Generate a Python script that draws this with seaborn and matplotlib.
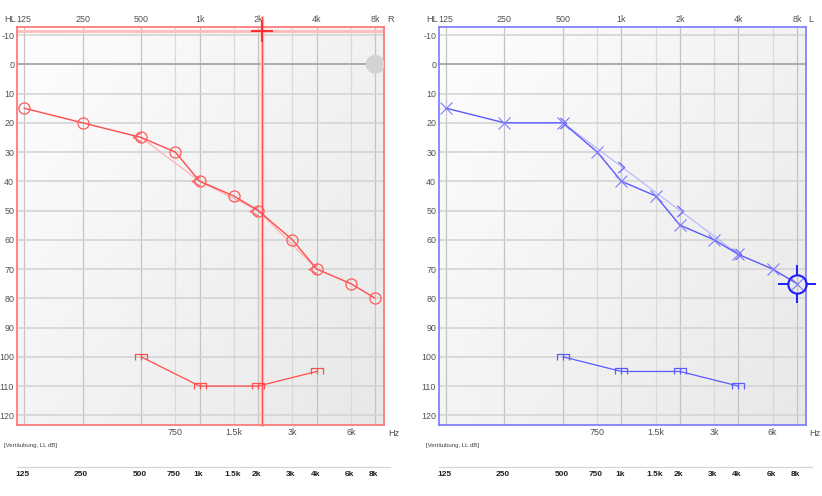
import numpy as np
import matplotlib
matplotlib.use("Agg")
import matplotlib.pyplot as plt
import matplotlib.transforms as mtransforms
from matplotlib.lines import Line2D
from matplotlib.path import Path
import seaborn as sns

sns.set_style("white")
plt.rcParams["font.family"] = ["Liberation Sans", "DejaVu Sans"]

# frequency axis
freqs = [125, 250, 500, 750, 1000, 1500, 2000, 3000, 4000, 6000, 8000]
octave_freqs = [125, 250, 500, 1000, 2000, 4000, 8000]
octave_labels = ["125", "250", "500", "1k", "2k", "4k", "8k"]
mid_freqs = [750, 1500, 3000, 6000]
mid_labels = ["750", "1.5k", "3k", "6k"]
table_labels = ["125", "250", "500", "750", "1k", "1.5k", "2k", "3k", "4k", "6k", "8k"]
db_ticks = [-10, 0, 10, 20, 30, 40, 50, 60, 70, 80, 90, 100, 110, 120]

# right ear (red)
right_air = [15, 20, 25, 30, 40, 45, 50, 60, 70, 75, 80]
bone_freqs = [500, 1000, 2000, 4000]
right_bone = [25, 40, 50, 70]
ull_freqs = [500, 1000, 2000, 4000]
right_ull = [100, 110, 110, 105]

# left ear (blue)
left_air = [15, 20, 20, 30, 40, 45, 55, 60, 65, 70, 75]
left_bone = [20, 35, 50, 65]
left_ull = [100, 105, 105, 110]

# extra marks
cursor_freq, cursor_db = 2100, -11.4
ref_freq, ref_db = 8000, 0
target_freq, target_db = 8000, 75

W, H = 822, 496
fig = plt.figure(figsize=(W / 100, H / 100), dpi=100)

M, L = Path.MOVETO, Path.LINETO
bc_right_marker = Path([(0, 0.55), (-1, 0), (0, -0.55)], [M, L, L])
bc_left_marker = Path([(-0.5, 0.9), (0.5, 0), (-0.5, -0.9)], [M, L, L])
ull_marker = Path([(-1, -0.45), (-1, 0.5), (1, 0.5), (1, -0.45), (0, 0.5), (0, -0.45)],
                  [M, L, L, L, M, L])
target_ticks = Path([(0, 0.5), (0, 1), (0, -0.5), (0, -1), (0.5, 0), (1, 0), (-0.5, 0), (-1, 0)],
                    [M, L, M, L, M, L, M, L])


def setup_axes(ax, side, edge):
    # soft grey gradient background
    yy, xx = np.mgrid[0:1:100j, 0:1:100j]
    g = 0.995 - 0.085 * (0.55 * xx + 0.45 * yy)
    ax.imshow(np.dstack([g, g, g]), extent=(0, 1, 0, 1), transform=ax.transAxes,
              aspect="auto", zorder=-2, origin="upper")
    ax.set_xscale("log", base=2)
    ax.set_xlim(115, 8900)
    ax.set_ylim(123.3, -12.75)
    ax.set_xticks(octave_freqs, octave_labels)
    ax.set_xticks(mid_freqs, mid_labels, minor=True)
    ax.set_yticks(db_ticks, [str(v) for v in db_ticks])
    ax.tick_params(which="both", length=0, labelsize=6.4, labelcolor="#505050")
    ax.tick_params(axis="x", which="major", labeltop=True, labelbottom=False, pad=2.5)
    ax.tick_params(axis="x", which="minor", labeltop=False, labelbottom=True, pad=2.5)
    ax.tick_params(axis="y", pad=2)
    ax.set_axisbelow(True)
    ax.grid(axis="x", which="major", color="#c4c4c4", lw=0.9)
    ax.grid(axis="x", which="minor", color="#d9d9d9", lw=0.9)
    ax.grid(axis="y", which="major", color="#d2d2d2", lw=1.1)
    ax.axhline(0, color="#a9a9a9", lw=1.3, zorder=0.6)
    for s in ax.spines.values():
        s.set_visible(True)
        s.set_color(edge)
        s.set_linewidth(1.2)
    # labels around the panel
    x0, x1 = ax.get_position().x0, ax.get_position().x1
    fig.text(x0 - 13 / W, 1 - 20 / H, "HL", fontsize=6.6, color="#505050", va="center")
    fig.text(x1 + 2.5 / W, 1 - 20 / H, side, fontsize=6.6, color="#505050", va="center")
    fig.text(x1 + 3.5 / W, 1 - 433 / H, "Hz", fontsize=6.6, color="#505050", va="center")
    fig.text(x0 - 13 / W, 1 - 445 / H, "[Vertäubung, LL dB]", fontsize=4.3,
             color="#404040", va="center")
    fig.add_artist(Line2D([x0, x1 + 6 / W], [1 - 467 / H] * 2, color="#d6d6d6", lw=0.9))
    tr = mtransforms.blended_transform_factory(ax.transData, fig.transFigure)
    off = mtransforms.ScaledTranslation(-1.5 / 100, 0, fig.dpi_scale_trans)
    for f, lab in zip(freqs, table_labels):
        ax.text(f, 1 - 475 / H, lab, transform=tr + off, ha="center", va="center",
                fontsize=6, fontweight="bold", color="#202020", clip_on=False)


ax_r = fig.add_axes([16.96 / W, 71 / H, 367.3 / W, 398 / H])
ax_l = fig.add_axes([438.96 / W, 71 / H, 367.0 / W, 398 / H])

# ---- right ear (red)
red, red_light = "#ff4c4c", "#ffaaaa"
setup_axes(ax_r, "R", "#ff7070")
ax_r.axhline(cursor_db, color="#ffbcbc", lw=2, zorder=1)
ax_r.axvline(cursor_freq, ymin=0, ymax=1.026, color="#ffb8b8", lw=2.4, clip_on=False, zorder=1)
ax_r.axvline(cursor_freq, ymin=0, ymax=1.026, color="#ff5050", lw=0.8, clip_on=False, zorder=1.1)
sns.lineplot(x=bone_freqs, y=right_bone, ax=ax_r, sort=False, estimator=None, color=red_light,
             lw=0.8, marker=bc_right_marker, markersize=12, markerfacecolor="none",
             markeredgecolor="#ff6a6a", markeredgewidth=1.0, zorder=3)
sns.lineplot(x=freqs, y=right_air, ax=ax_r, sort=False, estimator=None, color=red, lw=1.0,
             marker="o", markersize=8, markerfacecolor="none", markeredgecolor="#ff5a5a",
             markeredgewidth=0.9, zorder=4)
sns.lineplot(x=ull_freqs, y=right_ull, ax=ax_r, sort=False, estimator=None, color=red, lw=0.9,
             marker=ull_marker, markersize=8.6, markerfacecolor="none", markeredgecolor=red,
             markeredgewidth=0.9, zorder=4)
sns.scatterplot(x=[ref_freq], y=[ref_db], ax=ax_r, s=13.7 ** 2, color="#d3d3d3",
                edgecolor="none", zorder=5)
sns.scatterplot(x=[cursor_freq], y=[cursor_db], ax=ax_r, marker="+", s=16 ** 2,
                color="#ff3030", linewidth=1.5, zorder=6, clip_on=False)

# ---- left ear (blue)
blue, blue_light = "#5a5aff", "#b3b3ff"
setup_axes(ax_l, "L", "#7878ff")
sns.lineplot(x=bone_freqs, y=left_bone, ax=ax_l, sort=False, estimator=None, color=blue_light,
             lw=0.8, marker=bc_left_marker, markersize=8, markerfacecolor="none",
             markeredgecolor="#7070ff", markeredgewidth=1.0, zorder=3)
sns.lineplot(x=freqs, y=left_air, ax=ax_l, sort=False, estimator=None, color=blue, lw=1.0,
             marker="x", markersize=8.6, markeredgecolor="#7c7cff", markeredgewidth=0.8,
             zorder=4)
sns.lineplot(x=ull_freqs, y=left_ull, ax=ax_l, sort=False, estimator=None, color=blue, lw=0.9,
             marker=ull_marker, markersize=8.6, markerfacecolor="none", markeredgecolor=blue,
             markeredgewidth=0.9, zorder=4)
sns.lineplot(x=[target_freq], y=[target_db], ax=ax_l, estimator=None, color="#1e1eff", lw=0,
             marker="o", markersize=13.2, markerfacecolor="none", markeredgecolor="#1e1eff",
             markeredgewidth=1.5, zorder=6, clip_on=False)
sns.lineplot(x=[target_freq], y=[target_db], ax=ax_l, estimator=None, color="#1e1eff", lw=0,
             marker=target_ticks, markersize=27, markerfacecolor="none",
             markeredgecolor="#1e1eff", markeredgewidth=1.4, zorder=6, clip_on=False)

for ax in (ax_r, ax_l):
    ax.set_xlim(115, 8900)
    ax.set_ylim(123.3, -12.75)
    ax.set_xlabel("")
    ax.set_ylabel("")

fig.savefig("out.png", dpi=100)
